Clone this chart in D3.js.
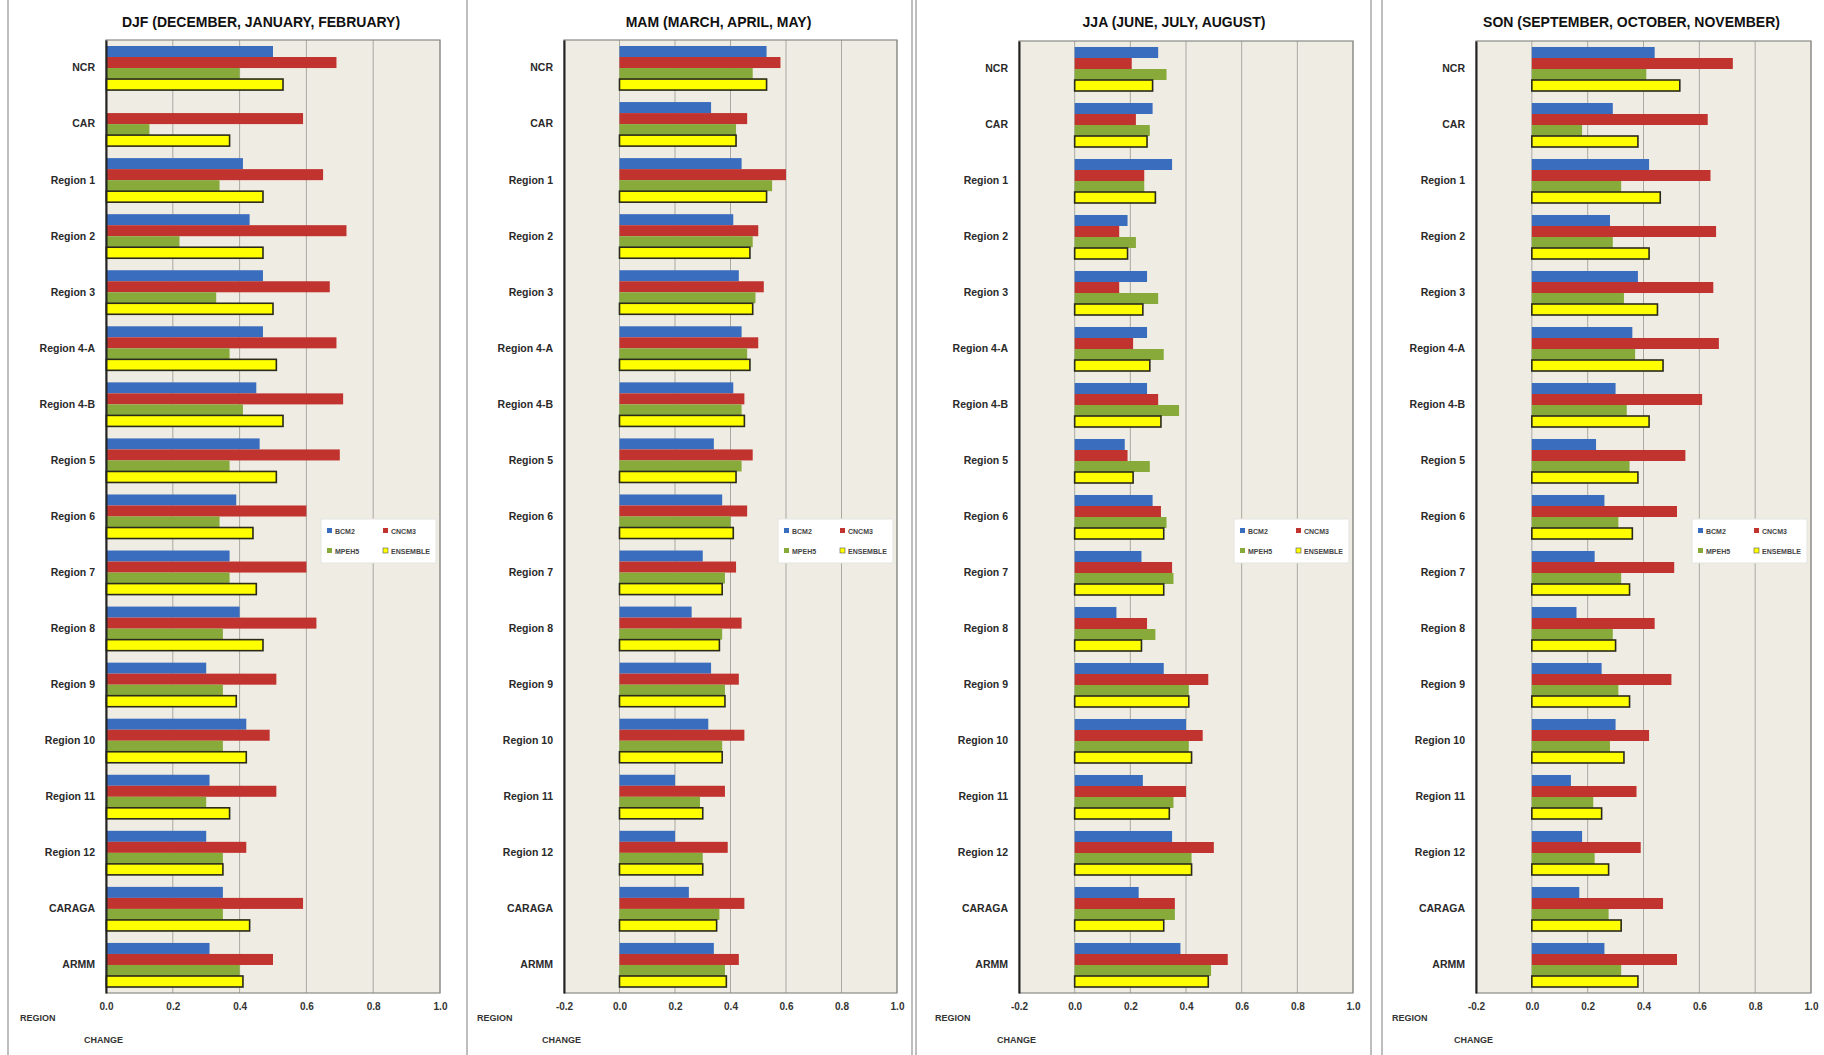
<!DOCTYPE html>
<html>
<head>
<meta charset="utf-8">
<script src="https://cdn.jsdelivr.net/npm/d3@7/dist/d3.min.js"></script>
<style>
  html, body { margin: 0; padding: 0; background: #ffffff; }
  svg { display: block; font-family: "Liberation Sans", Arial, sans-serif; }
</style>
</head>
<body>
<svg id="chart" width="1824" height="1055"></svg>
<script>
// Regions shown on the vertical axis of every panel
const regions = ["NCR", "CAR", "Region 1", "Region 2", "Region 3", "Region 4-A", "Region 4-B",
  "Region 5", "Region 6", "Region 7", "Region 8", "Region 9", "Region 10", "Region 11",
  "Region 12", "CARAGA", "ARMM"];

const seriesNames = ["BCM2", "CNCM3", "MPEH5", "ENSEMBLE"];
const seriesColors = ["#3b6dbf", "#c0332f", "#87aa3b", "#ffff00"];

// DJF (December, January, February)
const djfBCM2     = [0.50, 0.00, 0.41, 0.43, 0.47, 0.47, 0.45, 0.46, 0.39, 0.37, 0.40, 0.30, 0.42, 0.31, 0.30, 0.35, 0.31];
const djfCNCM3    = [0.69, 0.59, 0.65, 0.72, 0.67, 0.69, 0.71, 0.70, 0.60, 0.60, 0.63, 0.51, 0.49, 0.51, 0.42, 0.59, 0.50];
const djfMPEH5    = [0.40, 0.13, 0.34, 0.22, 0.33, 0.37, 0.41, 0.37, 0.34, 0.37, 0.35, 0.35, 0.35, 0.30, 0.35, 0.35, 0.40];
const djfEnsemble = [0.53, 0.37, 0.47, 0.47, 0.50, 0.51, 0.53, 0.51, 0.44, 0.45, 0.47, 0.39, 0.42, 0.37, 0.35, 0.43, 0.41];

// MAM (March, April, May)
const mamBCM2     = [0.53, 0.33, 0.44, 0.41, 0.43, 0.44, 0.41, 0.34, 0.37, 0.30, 0.26, 0.33, 0.32, 0.20, 0.20, 0.25, 0.34];
const mamCNCM3    = [0.58, 0.46, 0.60, 0.50, 0.52, 0.50, 0.45, 0.48, 0.46, 0.42, 0.44, 0.43, 0.45, 0.38, 0.39, 0.45, 0.43];
const mamMPEH5    = [0.48, 0.42, 0.55, 0.48, 0.49, 0.46, 0.44, 0.44, 0.40, 0.38, 0.37, 0.38, 0.37, 0.29, 0.30, 0.36, 0.38];
const mamEnsemble = [0.53, 0.42, 0.53, 0.47, 0.48, 0.47, 0.45, 0.42, 0.41, 0.37, 0.36, 0.38, 0.37, 0.30, 0.30, 0.35, 0.385];

// JJA (June, July, August)
const jjaBCM2     = [0.30, 0.28, 0.35, 0.19, 0.26, 0.26, 0.26, 0.18, 0.28, 0.24, 0.15, 0.32, 0.40, 0.245, 0.35, 0.23, 0.38];
const jjaCNCM3    = [0.205, 0.22, 0.25, 0.16, 0.16, 0.21, 0.30, 0.19, 0.31, 0.35, 0.26, 0.48, 0.46, 0.40, 0.50, 0.36, 0.55];
const jjaMPEH5    = [0.33, 0.27, 0.25, 0.22, 0.30, 0.32, 0.375, 0.27, 0.33, 0.355, 0.29, 0.41, 0.41, 0.355, 0.42, 0.36, 0.49];
const jjaEnsemble = [0.28, 0.26, 0.29, 0.19, 0.245, 0.27, 0.31, 0.21, 0.32, 0.32, 0.24, 0.41, 0.42, 0.34, 0.42, 0.32, 0.48];

// SON (September, October, November)
const sonBCM2     = [0.44, 0.29, 0.42, 0.28, 0.38, 0.36, 0.30, 0.23, 0.26, 0.225, 0.16, 0.25, 0.30, 0.14, 0.18, 0.17, 0.26];
const sonCNCM3    = [0.72, 0.63, 0.64, 0.66, 0.65, 0.67, 0.61, 0.55, 0.52, 0.51, 0.44, 0.50, 0.42, 0.375, 0.39, 0.47, 0.52];
const sonMPEH5    = [0.41, 0.18, 0.32, 0.29, 0.33, 0.37, 0.34, 0.35, 0.31, 0.32, 0.29, 0.31, 0.28, 0.22, 0.225, 0.275, 0.32];
const sonEnsemble = [0.53, 0.38, 0.46, 0.42, 0.45, 0.47, 0.42, 0.38, 0.36, 0.35, 0.30, 0.35, 0.33, 0.25, 0.275, 0.32, 0.38];

// Tick labels for the value axis
const ticksDJF = [0.0, 0.2, 0.4, 0.6, 0.8, 1.0];
const ticksOther = [-0.2, 0.0, 0.2, 0.4, 0.6, 0.8, 1.0];

const panels = [
  { title: "DJF (DECEMBER, JANUARY, FEBRUARY)", left: 106, right: 440, top: 40, frameLeft: 20,
    domain: [0, 1], ticks: ticksDJF, series: [djfBCM2, djfCNCM3, djfMPEH5, djfEnsemble] },
  { title: "MAM (MARCH, APRIL, MAY)", left: 564, right: 897, top: 40, frameLeft: 477,
    domain: [-0.2, 1], ticks: ticksOther, series: [mamBCM2, mamCNCM3, mamMPEH5, mamEnsemble] },
  { title: "JJA (JUNE, JULY, AUGUST)", left: 1019, right: 1353, top: 41, frameLeft: 935,
    domain: [-0.2, 1], ticks: ticksOther, series: [jjaBCM2, jjaCNCM3, jjaMPEH5, jjaEnsemble] },
  { title: "SON (SEPTEMBER, OCTOBER, NOVEMBER)", left: 1476, right: 1811, top: 41, frameLeft: 1392,
    domain: [-0.2, 1], ticks: ticksOther, series: [sonBCM2, sonCNCM3, sonMPEH5, sonEnsemble] }
];

const svg = d3.select("#chart");
const plotBottom = 993;

// Panel separator lines
[8, 467, 912, 916, 1371, 1382].forEach(x => {
  svg.append("line").attr("x1", x).attr("x2", x).attr("y1", 0).attr("y2", 1055)
    .attr("stroke", "#a8a8a8").attr("stroke-width", 1.5);
});

const fmt = d3.format(".1f");

panels.forEach(p => {
  const g = svg.append("g");

  const x = d3.scaleLinear().domain(p.domain).range([p.left, p.right]);
  const y = d3.scaleBand().domain(regions).range([p.top, plotBottom])
    .paddingInner(0.214).paddingOuter(0.107);
  const ySub = d3.scaleBand().domain(d3.range(seriesNames.length)).range([0, y.bandwidth()]);

  // title
  g.append("text")
    .attr("x", (p.left + p.right) / 2 - 12).attr("y", 27)
    .attr("text-anchor", "middle").attr("font-size", 14).attr("font-weight", "bold")
    .attr("fill", "#111").text(p.title);

  // plot background
  g.append("rect")
    .attr("x", p.left).attr("y", p.top)
    .attr("width", p.right - p.left).attr("height", plotBottom - p.top)
    .attr("fill", "#eeece3");

  // vertical gridlines
  g.selectAll("line.grid").data(p.ticks).join("line")
    .attr("class", "grid")
    .attr("x1", d => x(d)).attr("x2", d => x(d))
    .attr("y1", p.top).attr("y2", plotBottom)
    .attr("stroke", "#a9a9a4").attr("stroke-width", 1);

  // bars
  const rows = g.selectAll("g.row").data(regions).join("g")
    .attr("class", "row")
    .attr("transform", d => `translate(0,${y(d)})`);

  rows.selectAll("rect").data((d, i) => p.series.map((s, k) => ({ k, v: s[i] }))).join("rect")
    .attr("x", d => x(Math.min(0, d.v)))
    .attr("y", d => ySub(d.k))
    .attr("width", d => Math.abs(x(d.v) - x(0)))
    .attr("height", ySub.bandwidth())
    .attr("fill", d => seriesColors[d.k])
    .attr("stroke", d => d.k === 3 ? "#2a2a1a" : "none")
    .attr("stroke-width", d => d.k === 3 ? 1.6 : 0);

  // plot border
  g.append("rect")
    .attr("x", p.left).attr("y", p.top)
    .attr("width", p.right - p.left).attr("height", plotBottom - p.top)
    .attr("fill", "none").attr("stroke", "#8a8a86").attr("stroke-width", 1.2);

  // category axis
  const yAxis = g.append("g")
    .attr("transform", `translate(${p.left},0)`)
    .call(d3.axisLeft(y).tickSize(0).tickPadding(11));
  yAxis.select(".domain").attr("stroke", "#222").attr("stroke-width", 2);
  yAxis.selectAll("text").attr("font-size", 10.5).attr("font-weight", "bold")
    .attr("fill", "#2a2a2a").attr("font-family", "Liberation Sans, Arial, sans-serif");

  // value axis
  const xAxis = g.append("g")
    .attr("transform", `translate(0,${plotBottom})`)
    .call(d3.axisBottom(x).tickValues(p.ticks).tickFormat(d => fmt(d).replace("\u2212", "-"))
      .tickSize(0).tickPadding(10));
  xAxis.select(".domain").remove();
  xAxis.selectAll("text").attr("font-size", 10).attr("font-weight", "bold")
    .attr("fill", "#333").attr("font-family", "Liberation Sans, Arial, sans-serif");

  // axis titles
  g.append("text").attr("x", p.frameLeft).attr("y", 1021)
    .attr("font-size", 9).attr("font-weight", "bold").attr("fill", "#333").text("REGION");
  g.append("text").attr("x", p.left - 22).attr("y", 1043)
    .attr("font-size", 9).attr("font-weight", "bold").attr("fill", "#333").text("CHANGE");

  // legend
  const lgW = 115, lgH = 44;
  const lgX = p.right - lgW - 4, lgY = 519;
  const lg = g.append("g").attr("transform", `translate(${lgX},${lgY})`);
  lg.append("rect").attr("width", lgW).attr("height", lgH)
    .attr("fill", "#ffffff").attr("stroke", "#e4e4e0").attr("stroke-width", 1);
  const items = lg.selectAll("g.item").data(seriesNames).join("g")
    .attr("class", "item")
    .attr("transform", (d, i) => `translate(${6 + (i % 2) * 56},${12 + Math.floor(i / 2) * 20})`);
  items.append("rect").attr("x", 0).attr("y", -3).attr("width", 5).attr("height", 5)
    .attr("fill", (d, i) => seriesColors[i])
    .attr("stroke", (d, i) => i === 3 ? "#555" : "none").attr("stroke-width", 0.6);
  items.append("text").attr("x", 8).attr("y", 2.5)
    .attr("font-size", 7).attr("font-weight", "bold").attr("fill", "#444").text(d => d);
});
</script>
</body>
</html>
